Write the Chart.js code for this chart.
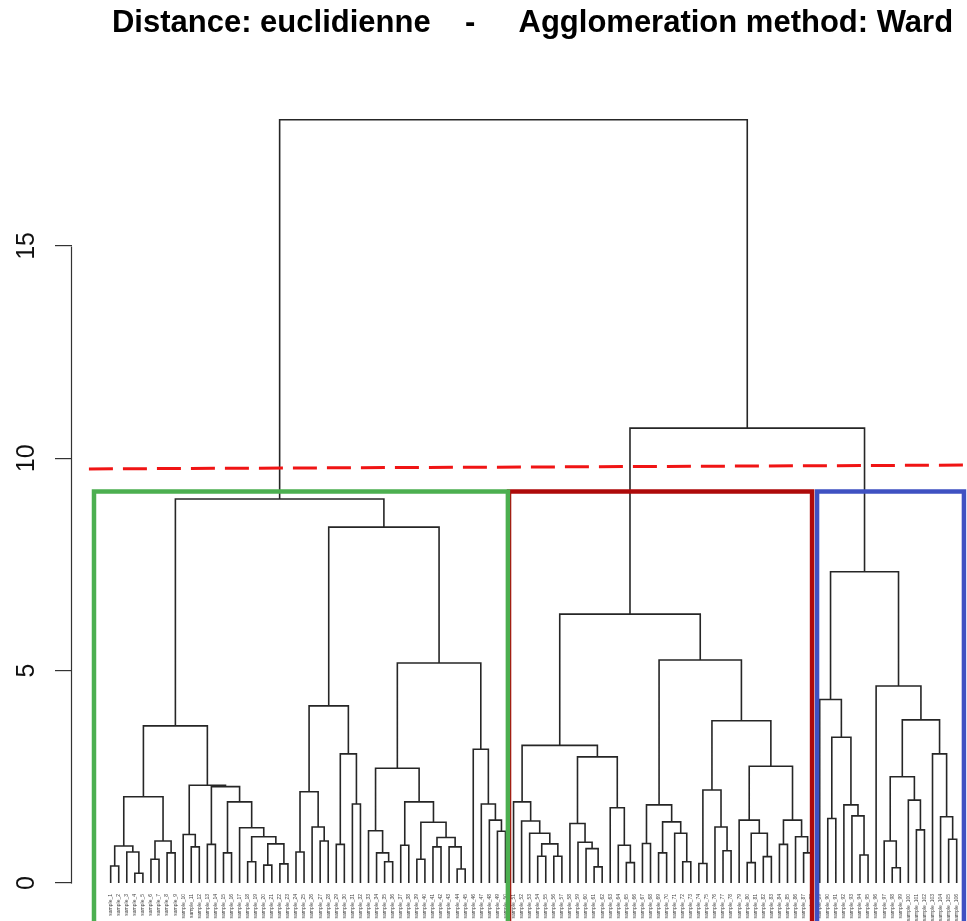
<!DOCTYPE html>
<html>
<head>
<meta charset="utf-8">
<script src="https://cdn.jsdelivr.net/npm/chart.js@4/dist/chart.umd.min.js"></script>
<style>
html,body{margin:0;padding:0;background:#ffffff;}
#wrap{width:967px;height:921px;position:relative;}
</style>
</head>
<body>
<div id="wrap"><canvas id="c" width="967" height="921"></canvas></div>
<script>
// ---------------- DATA ----------------
const titleText = "             Distance: euclidienne    -     Agglomeration method: Ward";

// leaf labels, in dendrogram (left-to-right) order
const leafLabels = [
  "sample_1","sample_2","sample_3","sample_4","sample_5","sample_6","sample_7","sample_8","sample_9","sample_10",
  "sample_11","sample_12","sample_13","sample_14","sample_15","sample_16","sample_17","sample_18","sample_19","sample_20",
  "sample_21","sample_22","sample_23","sample_24","sample_25","sample_26","sample_27","sample_28","sample_29","sample_30",
  "sample_31","sample_32","sample_33","sample_34","sample_35","sample_36","sample_37","sample_38","sample_39","sample_40",
  "sample_41","sample_42","sample_43","sample_44","sample_45","sample_46","sample_47","sample_48","sample_49","sample_50",
  "sample_51","sample_52","sample_53","sample_54","sample_55","sample_56","sample_57","sample_58","sample_59","sample_60",
  "sample_61","sample_62","sample_63","sample_64","sample_65","sample_66","sample_67","sample_68","sample_69","sample_70",
  "sample_71","sample_72","sample_73","sample_74","sample_75","sample_76","sample_77","sample_78","sample_79","sample_80",
  "sample_81","sample_82","sample_83","sample_84","sample_85","sample_86","sample_87","sample_88","sample_89","sample_90",
  "sample_91","sample_92","sample_93","sample_94","sample_95","sample_96","sample_97","sample_98","sample_99","sample_100",
  "sample_101","sample_102","sample_103","sample_104","sample_105","sample_106"
];

const yTicks = [0, 5, 10, 15];

// merge tree: node = [height, leftChild, rightChild]; a leaf = its position in leafLabels (1-based)
const greenTree = [9.04,
  [3.70,
    [2.03, [0.87, [0.40, 1, 2], [0.73, 3, [0.23, 4, 5]]], [0.99, [0.56, 6, 7], [0.71, 8, 9]]],
    [2.30, [1.14, 10, [0.85, 11, 12]],
           [2.27, [0.91, 13, 14], [1.91, [0.71, 15, 16], [1.30, 17, [1.09, [0.50, 18, 19], [0.92, [0.42, 20, 21], [0.45, 22, 23]]]]]]]
  ],
  [8.38,
    [4.17, [2.15, [0.73, 24, 25], [1.32, 26, [0.99, 27, 28]]], [3.04, [0.91, 29, 30], [1.86, 31, 32]]],
    [5.18,
      [2.70, [1.23, 33, [0.71, 34, [0.50, 35, 36]]],
             [1.91, [0.89, 37, 38], [1.43, [0.56, 39, 40], [1.07, [0.85, 41, 42], [0.85, 43, [0.33, 44, 45]]]]]],
      [3.15, 46, [1.86, 47, [1.48, 48, [1.22, 49, 50]]]]
    ]
  ]
];

const redTree = [6.33,
  [3.24,
    [1.91, 51, [1.46, 52, [1.17, 53, [0.92, [0.63, 54, 55], [0.63, 56, 57]]]]],
    [2.97, [1.40, 58, [0.96, 59, [0.81, 60, [0.38, 61, 62]]]], [1.77, 63, [0.89, 64, [0.48, 65, 66]]]]
  ],
  [5.25,
    [1.84, [0.93, 67, 68], [1.44, [0.71, 69, 70], [1.17, 71, [0.50, 72, 73]]]],
    [3.82,
      [2.19, [0.46, 74, 75], [1.32, 76, [0.76, 77, 78]]],
      [2.75, [1.48, 79, [1.17, [0.48, 80, 81], [0.62, 82, 83]]], [1.48, [0.91, 84, 85], [1.09, 86, [0.71, 87, 88]]]]
    ]
  ]
];

const blueTree = [7.33,
  [4.32, 89, [3.43, [1.52, 90, 91], [1.84, 92, [1.58, 93, [0.66, 94, 95]]]]],
  [4.64, 96, [3.84, [2.50, [0.99, 97, [0.36, 98, 99]], [1.95, 100, [1.25, 101, 102]]],
                    [3.04, 103, [1.56, 104, [1.03, 105, 106]]]]]
];

const upperHeights = [10.71, 17.97];   // red+blue merge, root merge

// cluster rectangles (in leaf units / height units)
const clusterLeft   = [-1.07, 50.44, 88.67];
const clusterRight  = [50.30, 88.05, 106.90];
const clusterTop    = [9.22, 9.22, 9.22];
const clusterColors = ["#4CAF50", "#AE0A0A", "#3F51C2"];

// dashed cut line
const cutLineX = [-1.7, 107.3];
const cutLineY = [9.75, 9.84];

// ---------------- BUILD ----------------
const Y_MIN = -0.895, Y_MAX = 19.378;
const X_MIN = -3.80, X_MAX = 107.28;

const treeRoot = [upperHeights[1], greenTree, [upperHeights[0], redTree, blueTree]];
const treePts = [];
function walk(node) {
  if (typeof node === "number") return { x: node, h: 0 };
  const L = walk(node[1]), R = walk(node[2]);
  treePts.push({ x: L.x, y: L.h }, { x: L.x, y: node[0] }, { x: R.x, y: node[0] }, { x: R.x, y: R.h }, { x: R.x, y: null });
  return { x: (L.x + R.x) / 2, h: node[0] };
}
walk(treeRoot);

const rectSets = clusterLeft.map((l, i) => ({
  data: [
    { x: l, y: Y_MIN }, { x: l, y: clusterTop[i] },
    { x: clusterRight[i], y: clusterTop[i] }, { x: clusterRight[i], y: Y_MIN }
  ],
  borderColor: clusterColors[i],
  borderWidth: 4.5,
  borderJoinStyle: "miter",
  borderCapStyle: "square",
  pointRadius: 0,
  tension: 0,
  fill: false
}));

const cutSet = {
  data: cutLineX.map((x, i) => ({ x: x, y: cutLineY[i] })),
  borderColor: "#F01414",
  borderWidth: 3,
  borderDash: [24, 10],
  pointRadius: 0,
  fill: false
};

const treeSet = {
  data: treePts,
  borderColor: "#262626",
  borderWidth: 1.6,
  pointRadius: 0,
  spanGaps: false,
  tension: 0,
  fill: false,
  borderCapStyle: "butt",
  borderJoinStyle: "miter"
};

const axisLinePlugin = {
  id: "axisLine",
  afterDraw(chart) {
    const ys = chart.scales.y;
    const x = Math.round(chart.chartArea.left) - 0.5;
    const ctx = chart.ctx;
    ctx.save();
    ctx.strokeStyle = "#333";
    ctx.lineWidth = 1.2;
    ctx.beginPath();
    ctx.moveTo(x, Math.round(ys.getPixelForValue(yTicks[0])) + 0.5);
    ctx.lineTo(x, Math.round(ys.getPixelForValue(yTicks[yTicks.length - 1])) + 0.5);
    ctx.stroke();
    ctx.restore();
  }
};

new Chart(document.getElementById("c"), {
  type: "line",
  data: { datasets: [cutSet, ...rectSets, treeSet] },
  options: {
    responsive: false,
    animation: false,
    devicePixelRatio: 1,
    layout: { padding: 0 },
    plugins: {
      legend: { display: false },
      tooltip: { enabled: false },
      title: {
        display: true,
        text: titleText,
        align: "start",
        color: "#000",
        font: { family: "'Liberation Sans', Arial, sans-serif", size: 31, weight: "bold" },
        padding: { top: 5, bottom: 17.8 }
      }
    },
    scales: {
      x: {
        type: "linear",
        min: X_MIN, max: X_MAX,
        position: { y: 0 },
        grid: { display: false },
        border: { display: false },
        afterBuildTicks: s => { s.ticks = leafLabels.map((_, i) => ({ value: i + 1 })); },
        afterFit: s => { s.height = 0; s.paddingLeft = 0; s.paddingRight = 0; s.paddingTop = 0; s.paddingBottom = 0; },
        ticks: {
          autoSkip: false,
          minRotation: 90, maxRotation: 90,
          padding: 3,
          color: "#444",
          font: { family: "'Liberation Sans', Arial, sans-serif", size: 5 },
          callback: (v, i) => leafLabels[i]
        }
      },
      y: {
        type: "linear",
        min: Y_MIN, max: Y_MAX,
        position: "left",
        border: { display: false },
        grid: { display: true, drawOnChartArea: false, drawTicks: true, tickLength: 17, color: "#333", lineWidth: 1.2 },
        afterBuildTicks: s => { s.ticks = yTicks.map(v => ({ value: v })); },
        afterFit: s => { s.width = 72; s.paddingTop = 0; s.paddingBottom = 0; },
        ticks: {
          minRotation: 90, maxRotation: 90,
          crossAlign: "center",
          padding: 14,
          color: "#111",
          font: { family: "'Liberation Sans', Arial, sans-serif", size: 25 }
        }
      }
    }
  },
  plugins: [axisLinePlugin]
});
</script>
</body>
</html>
